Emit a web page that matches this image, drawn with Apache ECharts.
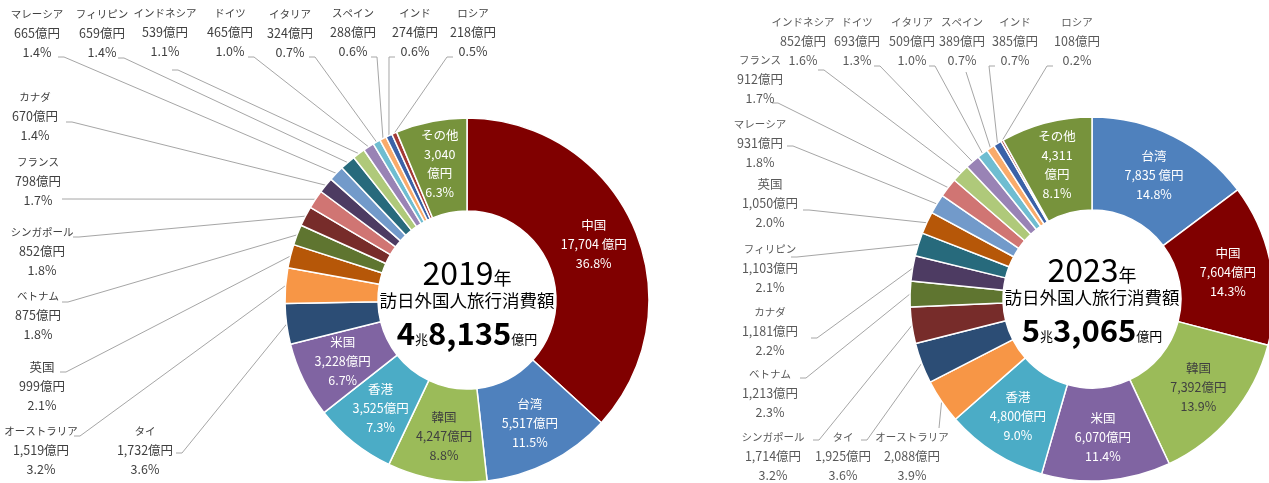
<!DOCTYPE html>
<html>
<head>
<meta charset="utf-8">
<script src="https://cdn.jsdelivr.net/npm/echarts@6/dist/echarts.min.js"></script>
<style>
  html, body { margin: 0; padding: 0; background: #fff; }
  #chart { width: 1269px; height: 483px; }
</style>
</head>
<body>
<div id="chart"></div>
<script>
// 2019年 国・地域別 旅行消費額（億円）
const names2019 = ['中国', '台湾', '韓国', '香港', '米国', 'タイ', 'オーストラリア', '英国', 'ベトナム', 'シンガポール',
  'フランス', 'カナダ', 'マレーシア', 'フィリピン', 'インドネシア', 'ドイツ', 'イタリア', 'スペイン', 'インド', 'ロシア', 'その他']
const values2019 = [17704, 5517, 4247, 3525, 3228, 1732, 1519, 999, 875, 852,
  798, 670, 665, 659, 539, 465, 324, 288, 274, 218, 3040]

// 2023年
const names2023 = ['台湾', '中国', '韓国', '米国', '香港', 'オーストラリア', 'タイ', 'シンガポール', 'ベトナム', 'カナダ',
  'フィリピン', '英国', 'マレーシア', 'フランス', 'インドネシア', 'ドイツ', 'イタリア', 'スペイン', 'インド', 'ロシア', 'その他']
const values2023 = [7835, 7604, 7392, 6070, 4800, 2088, 1925, 1714, 1213, 1181,
  1103, 1050, 931, 912, 852, 693, 509, 389, 385, 108, 4311]

// 中央の表示
const years = ['2019', '2023']
const totalCho = ['4', '5']
const totalMan = ['8,135', '3,065']

// 円の中にラベルを置く項目
const insideNames = ['中国', '台湾', '韓国', '香港', '米国', 'その他']

const colors = {
  '中国': '#800000',
  '台湾': '#4F81BD',
  '韓国': '#9BBB59',
  '香港': '#4BACC6',
  '米国': '#8064A2',
  'タイ': '#2C4D75',
  'オーストラリア': '#F79646',
  '英国': '#B65708',
  'ベトナム': '#5F7530',
  'シンガポール': '#772C2A',
  'フランス': '#D07573',
  'カナダ': '#4D3B62',
  'マレーシア': '#729ACA',
  'フィリピン': '#276A7C',
  'インドネシア': '#AFC97A',
  'ドイツ': '#9983B5',
  'イタリア': '#6FBDD1',
  'スペイン': '#F9AB6B',
  'インド': '#3B62A8',
  'ロシア': '#A33A36',
  'その他': '#77933C'
}

// 外側ラベルの位置 [中心x, 上端y, 線の接続x, 接続y, 向き]
const labelPos2019 = {
  'マレーシア': [37, 5, 58, 57, 'r'],
  'フィリピン': [102, 5, 118, 58, 'r'],
  'インドネシア': [165, 4, 172, 70, 'r'],
  'ドイツ': [230, 4, 248, 57, 'r'],
  'イタリア': [290, 5, 309, 57, 'r'],
  'スペイン': [353, 4, 371, 57, 'r'],
  'インド': [415, 4, 395, 57, 'l'],
  'ロシア': [473, 4, 453, 57, 'l'],
  'カナダ': [35, 88, 66, 122, 'r'],
  'フランス': [38, 153, 62, 199, 'r'],
  'シンガポール': [42, 223, 73, 237, 'r'],
  'ベトナム': [38, 287, 62, 302, 'r'],
  '英国': [42, 358, 60, 372, 'r'],
  'オーストラリア': [41, 422, 74, 436, 'r'],
  'タイ': [145, 422, 176, 453, 'r']
}
const labelPos2023 = {
  'インドネシア': [803, 13, 818, 70, 'r'],
  'ドイツ': [857, 13, 874, 66, 'r'],
  'イタリア': [912, 13, 929, 66, 'r'],
  'スペイン': [962, 13, 966, 72, 'b'],
  'インド': [1015, 13, 995, 66, 'l'],
  'ロシア': [1077, 13, 1053, 66, 'l'],
  'フランス': [760, 51, 772, 103, 'r'],
  'マレーシア': [760, 115, 787, 146, 'r'],
  '英国': [770, 175, 803, 210, 'r'],
  'フィリピン': [770, 240, 791, 257, 'r'],
  'カナダ': [770, 303, 811, 338, 'r'],
  'ベトナム': [770, 365, 800, 378, 'r'],
  'シンガポール': [773, 428, 813, 440, 'r'],
  'タイ': [843, 428, 861, 440, 'r'],
  'オーストラリア': [912, 428, 939, 428, 'b']
}

const FONT = '"Noto Sans CJK JP", "Noto Sans", sans-serif'

function comma(v) {
  return String(v).replace(/\B(?=(\d{3})+(?!\d))/g, ',')
}

function makeFormatter(values) {
  const total = values.reduce((a, b) => a + b, 0)
  return function (p) {
    const pct = (p.value / total * 100).toFixed(1) + '%'
    const v = comma(p.value)
    // カタカナ名は元図で細く見えるので少し小さくする
    const nm = /[\u30A0-\u30FF]/.test(p.name) ? '{k|' + p.name + '}' : p.name
    if (p.name === 'その他') return [nm, v, '億円', pct].join('\n')
    // 最大の項目だけ数字と単位の間に空白がある
    const unit = p.dataIndex === 0 ? ' 億円' : '億円'
    return [nm, v + unit, pct].join('\n')
  }
}

function makeLayout(names, pos) {
  return function (params) {
    const p = pos[names[params.dataIndex]]
    if (!p) return
    const [cx, top, ax, ay, side] = p
    const pts = params.labelLinePoints
    const start = pts ? pts[0] : [ax, ay]
    let mid = [ax, ay]
    if (side === 'r') mid = [ax + 6, ay]
    else if (side === 'l') mid = [ax - 6, ay]
    return {
      x: cx,
      y: top,
      align: 'center',
      verticalAlign: 'top',
      labelLinePoints: [start, mid, [ax, ay]]
    }
  }
}

function buildData(names, values) {
  return names.map((name, i) => {
    const item = { name: name, value: values[i], itemStyle: { color: colors[name] } }
    if (insideNames.indexOf(name) >= 0) {
      item.label = { position: 'inside', color: name === '韓国' ? '#404040' : '#fff' }
      item.labelLine = { show: false }
    }
    return item
  })
}

function buildSeries(names, values, center, pos, outColor) {
  return {
    type: 'pie',
    center: center,
    radius: [89, 182],
    startAngle: 90,
    clockwise: true,
    avoidLabelOverlap: false,
    silent: true,
    animation: false,
    itemStyle: { borderColor: '#fff', borderWidth: 1.5 },
    label: {
      show: true,
      position: 'outside',
      formatter: makeFormatter(values),
      fontFamily: FONT,
      fontSize: 12.5,
      lineHeight: 19,
      color: outColor,
      rich: {
        k: { fontFamily: FONT, fontSize: 10.5, lineHeight: 19 }
      }
    },
    labelLine: { show: true, lineStyle: { color: '#A6A6A6', width: 1 } },
    labelLayout: makeLayout(names, pos),
    data: buildData(names, values)
  }
}

function centerText(i, cx, cy) {
  return [
    {
      type: 'text', x: cx, y: cy - 31,
      style: {
        text: '{a|' + years[i] + '}{b|年}',
        align: 'center', verticalAlign: 'middle',
        rich: {
          a: { fontFamily: FONT, fontSize: 32, fill: '#000', color: '#000', verticalAlign: 'bottom', lineHeight: 40 },
          b: { fontFamily: FONT, fontSize: 18, fill: '#000', color: '#000', verticalAlign: 'bottom', lineHeight: 40, padding: [0, 0, 2, 0] }
        }
      }
    },
    {
      type: 'text', x: cx, y: cy,
      style: {
        text: '訪日外国人旅行消費額',
        align: 'center', verticalAlign: 'middle',
        fontFamily: FONT, fontSize: 17.5, fill: '#000'
      }
    },
    {
      type: 'text', x: cx, y: cy + 30,
      style: {
        text: '{n|' + totalCho[i] + '}{s|兆}{n|' + totalMan[i] + '}{s|億円}',
        align: 'center', verticalAlign: 'middle',
        rich: {
          n: { fontFamily: FONT, fontSize: 31, fontWeight: 'bold', fill: '#000', color: '#000', verticalAlign: 'bottom', lineHeight: 38 },
          s: { fontFamily: FONT, fontSize: 13, fill: '#000', color: '#000', verticalAlign: 'bottom', lineHeight: 38, padding: [0, 0, 3, 0] }
        }
      }
    }
  ]
}

const chart = echarts.init(document.getElementById('chart'), null, { width: 1269, height: 483 })

chart.setOption({
  backgroundColor: '#fff',
  animation: false,
  series: [
    buildSeries(names2019, values2019, [467, 300], labelPos2019, '#404040'),
    buildSeries(names2023, values2023, [1092, 299], labelPos2023, '#595959')
  ],
  graphic: centerText(0, 467, 300).concat(centerText(1, 1092, 297))
})
</script>
</body>
</html>
